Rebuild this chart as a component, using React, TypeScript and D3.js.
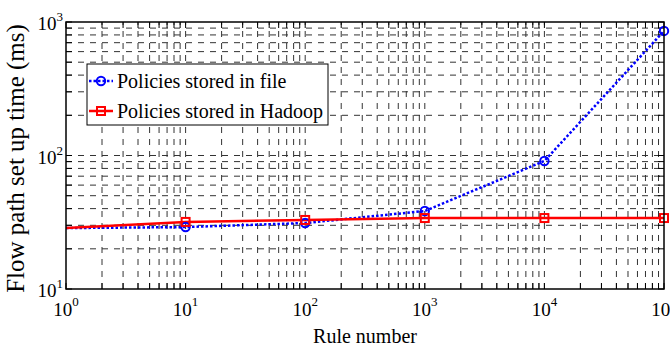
import React from "react";
import * as d3 from "d3";

const ruleNumbers = [1, 10, 100, 1000, 10000, 100000];
const fileTimes = [28.6, 29.1, 31.2, 38.4, 91, 857];
const hadoopTimes = [28.6, 31.8, 32.9, 34.0, 34.0, 34.0];
const seriesNames = ["Policies stored in file", "Policies stored in Hadoop"];
const xTickExps = [0, 1, 2, 3, 4, 5];
const yTickExps = [1, 2, 3];

const W = 670, H = 349;
const L = 66, R = 664, T = 22, B = 289;
const FONT = "'Liberation Serif', 'Times New Roman', serif";

export default function App() {
  const x = d3.scaleLog().domain([1, 1e5]).range([L, R]);
  const y = d3.scaleLog().domain([10, 1000]).range([B, T]);
  const xGrid = x.ticks();
  const yGrid = y.ticks();
  const line = d3.line<number>().x((_, i) => x(ruleNumbers[i])).y((d) => y(d));
  const tickLen = 6;
  const markerIdx = ruleNumbers.map((_, i) => i).filter((i) => ruleNumbers[i] > 1);

  const circle = (cx: number, cy: number, k: string) => (
    <circle key={k} cx={cx} cy={cy} r={4.2} fill="none" stroke="#0000ff" strokeWidth={2} />
  );
  const square = (cx: number, cy: number, k: string) => (
    <rect key={k} x={cx - 4} y={cy - 4} width={8} height={8} fill="none" stroke="#ff0000" strokeWidth={2} />
  );

  return (
    <svg width={W} height={H} style={{ position: "absolute", left: 0, top: 0, background: "#fff" }} fontFamily={FONT}>
      <defs>
        <clipPath id="plot">
          <rect x={L} y={T} width={R - L} height={B - T} />
        </clipPath>
      </defs>
      <rect x={0} y={0} width={W} height={H} fill="#fff" />
      {/* grid */}
      <g stroke="#333" strokeWidth={1} strokeDasharray="6,6">
        {xGrid.filter((v) => v > 1 && v < 1e5).map((v, i) => (
          <line key={"gx" + i} x1={x(v)} x2={x(v)} y1={B} y2={T} />
        ))}
        {yGrid.filter((v) => v > 10 && v < 1000).map((v, i) => (
          <line key={"gy" + i} x1={L} x2={R} y1={y(v)} y2={y(v)} />
        ))}
      </g>
      {/* ticks */}
      <g stroke="#000" strokeWidth={1}>
        {xGrid.map((v, i) => (
          <g key={"tx" + i}>
            <line x1={x(v)} x2={x(v)} y1={B} y2={B - tickLen} />
            <line x1={x(v)} x2={x(v)} y1={T} y2={T + tickLen} />
          </g>
        ))}
        {yGrid.map((v, i) => (
          <g key={"ty" + i}>
            <line x1={L} x2={L + tickLen} y1={y(v)} y2={y(v)} />
            <line x1={R} x2={R - tickLen} y1={y(v)} y2={y(v)} />
          </g>
        ))}
      </g>
      {/* series */}
      <g clipPath="url(#plot)">
        <path d={line(fileTimes) || ""} fill="none" stroke="#0000ff" strokeWidth={2.5} strokeDasharray="2.5,2" />
        <path d={line(hadoopTimes) || ""} fill="none" stroke="#ff0000" strokeWidth={2.5} />
      </g>
      {markerIdx.map((i) => circle(x(ruleNumbers[i]), y(fileTimes[i]), "c" + i))}
      {markerIdx.map((i) => square(x(ruleNumbers[i]), y(hadoopTimes[i]), "s" + i))}
      {/* box */}
      <rect x={L} y={T} width={R - L} height={B - T} fill="none" stroke="#000" strokeWidth={1.5} />
      {/* x tick labels */}
      {xTickExps.map((e) => (
        <text key={"xl" + e} x={x(Math.pow(10, e))} y={316} textAnchor="middle" fontSize={19} fill="#000">
          10<tspan dy={-10} fontSize={13}>{e}</tspan>
        </text>
      ))}
      {yTickExps.map((e) => (
        <text key={"yl" + e} x={63} y={y(Math.pow(10, e)) + 8} textAnchor="end" fontSize={19} fill="#000">
          10<tspan dy={-9} fontSize={13}>{e}</tspan>
        </text>
      ))}
      <text x={(L + R) / 2} y={343} textAnchor="middle" fontSize={20} fill="#000">Rule number</text>
      <text transform={`translate(24, ${(T + B) / 2 + 3}) rotate(-90)`} textAnchor="middle" fontSize={25} fill="#000">
        Flow path set up time (ms)
      </text>
      {/* legend */}
      <rect x={87} y={64} width={241} height={61} fill="#fff" stroke="#000" strokeWidth={1} />
      <line x1={89} x2={113} y1={81} y2={81} stroke="#0000ff" strokeWidth={2.5} strokeDasharray="2.5,2" />
      {circle(101, 81, "lc")}
      <text x={117} y={88} fontSize={20} fill="#000">{seriesNames[0]}</text>
      <line x1={89} x2={113} y1={111} y2={111} stroke="#ff0000" strokeWidth={2.5} />
      {square(101, 111, "ls")}
      <text x={117} y={118} fontSize={20} fill="#000">{seriesNames[1]}</text>
    </svg>
  );
}
